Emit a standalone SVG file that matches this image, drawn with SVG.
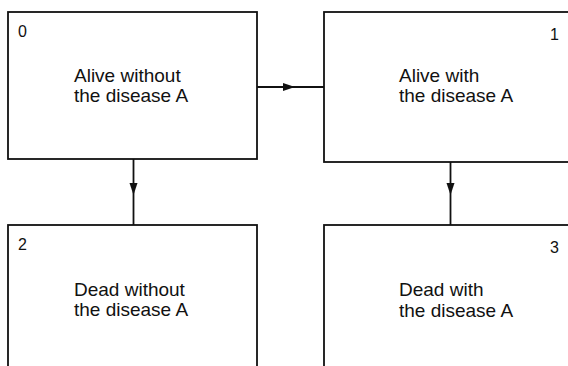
<svg xmlns="http://www.w3.org/2000/svg" width="568" height="366" viewBox="0 0 568 366">
<style>
.box{fill:#fff;stroke:#111;stroke-width:1.8}
.lbl{font-family:"Liberation Sans",Arial,sans-serif;font-size:19px;fill:#111}
.num{font-family:"Liberation Sans",Arial,sans-serif;font-size:16px;fill:#111}
.conn{fill:none;stroke:#111;stroke-width:1.8}
</style>
<defs>
<marker id="arr" markerUnits="userSpaceOnUse" markerWidth="13" markerHeight="9" refX="12" refY="4" orient="auto">
<path d="M0,0 L12,4 L0,8 z" fill="#111"/>
</marker>
</defs>
<rect width="568" height="366" fill="#fff"/>
<g id="node0">
<rect class="box" x="8" y="12" width="249" height="147"/>
<text class="num" x="18" y="37">0</text>
<text class="lbl" x="74" y="82">Alive without</text>
<text class="lbl" x="74" y="102">the disease A</text>
</g>
<g id="node1">
<rect class="box" x="324" y="12" width="260" height="150"/>
<text class="num" x="559" y="40" text-anchor="end">1</text>
<text class="lbl" x="399" y="82">Alive with</text>
<text class="lbl" x="399" y="102">the disease A</text>
</g>
<g id="node2">
<rect class="box" x="8" y="225" width="249" height="160"/>
<text class="num" x="18" y="250">2</text>
<text class="lbl" x="74" y="296">Dead without</text>
<text class="lbl" x="74" y="316">the disease A</text>
</g>
<g id="node3">
<rect class="box" x="324" y="225" width="260" height="160"/>
<text class="num" x="559" y="253" text-anchor="end">3</text>
<text class="lbl" x="399" y="296">Dead with</text>
<text class="lbl" x="399" y="317">the disease A</text>
</g>
<g id="connectors">
<path class="conn" d="M257,87 L295,87 L324,87" marker-mid="url(#arr)"/>
<path class="conn" d="M133.5,159 L133.5,195 L133.5,225" marker-mid="url(#arr)"/>
<path class="conn" d="M450.5,162 L450.5,195 L450.5,225" marker-mid="url(#arr)"/>
</g>
</svg>
